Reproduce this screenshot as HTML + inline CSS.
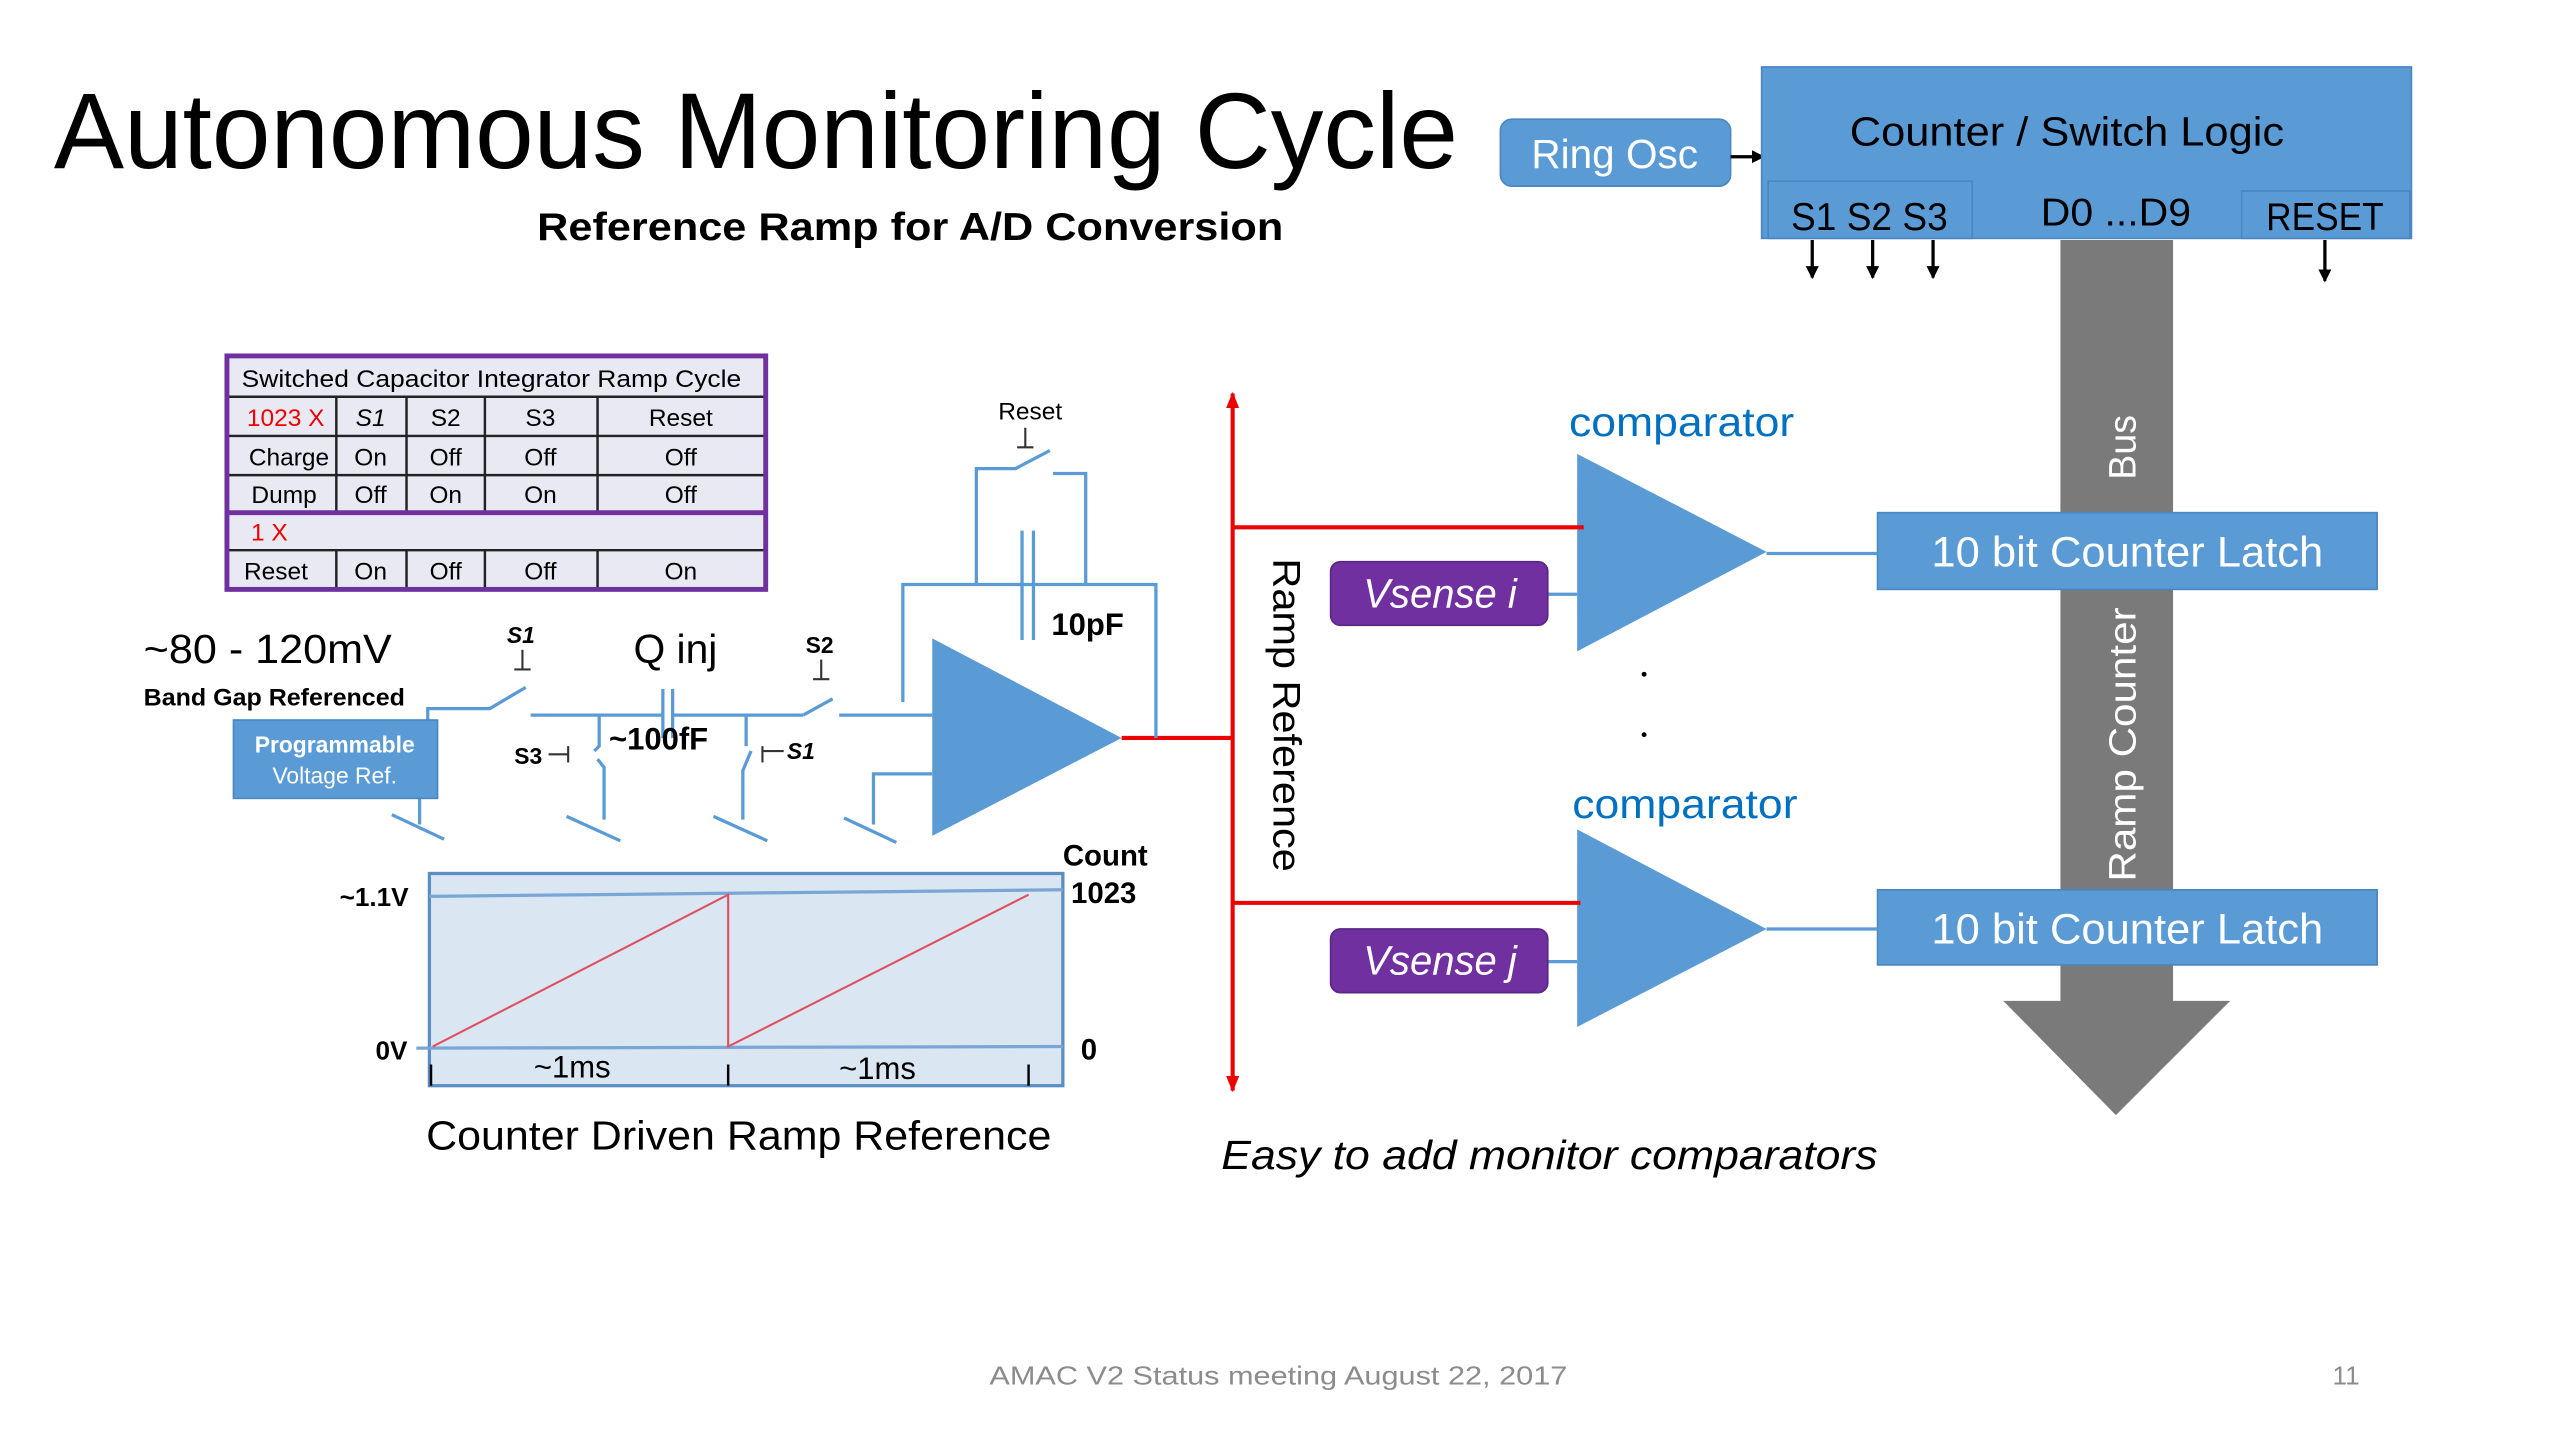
<!DOCTYPE html>
<html><head><meta charset="utf-8"><style>
html,body{margin:0;padding:0;background:#fff;}
svg{display:block;}
text{font-family:"Liberation Sans",sans-serif;}
</style></head><body>
<svg width="2560" height="1440" viewBox="0 0 1568 882" xmlns="http://www.w3.org/2000/svg">
<defs>
<marker id="ab" markerWidth="8" markerHeight="8" refX="7" refY="4" orient="auto" markerUnits="userSpaceOnUse"><path d="M0,0 L8,4 L0,8 z" fill="#000"/></marker>
<marker id="ar" markerWidth="10" markerHeight="10" refX="9" refY="5" orient="auto" markerUnits="userSpaceOnUse"><path d="M0,1 L10,5 L0,9 z" fill="#e00"/></marker>
</defs>
<rect width="1568" height="882" fill="#fff"/>
<!-- title -->
<text x="33" y="103" font-size="66" textLength="860" lengthAdjust="spacingAndGlyphs">Autonomous Monitoring Cycle</text>
<text x="329" y="147" font-size="24" font-weight="bold" textLength="457" lengthAdjust="spacingAndGlyphs">Reference Ramp for   A/D  Conversion</text>

<!-- Ring osc & counter -->
<rect x="919" y="73" width="141" height="41" rx="7" fill="#5b9bd5" stroke="#4a86c0"/>
<text x="989" y="103" font-size="25" fill="#fff" text-anchor="middle" textLength="102" lengthAdjust="spacingAndGlyphs">Ring Osc</text>
<line x1="1060" y1="96" x2="1080" y2="96" stroke="#000" stroke-width="2" marker-end="url(#ab)"/>
<rect x="1079" y="41" width="398" height="105" fill="#5b9bd5" stroke="#4a86c0"/>
<text x="1266" y="89" font-size="25" text-anchor="middle" textLength="266" lengthAdjust="spacingAndGlyphs">Counter / Switch Logic</text>
<rect x="1083" y="111" width="125" height="35" fill="#5b9bd5" stroke="#4a86c0"/>
<text x="1145" y="141" font-size="24" text-anchor="middle" textLength="96" lengthAdjust="spacingAndGlyphs">S1 S2 S3</text>
<text x="1296" y="138" font-size="24" text-anchor="middle" textLength="92" lengthAdjust="spacingAndGlyphs">D0 ...D9</text>
<rect x="1373" y="117" width="103" height="29" fill="#5b9bd5" stroke="#4a86c0"/>
<text x="1424" y="141" font-size="24" text-anchor="middle" textLength="72" lengthAdjust="spacingAndGlyphs">RESET</text>
<g stroke="#000" stroke-width="2">
<line x1="1110" y1="147" x2="1110" y2="170" marker-end="url(#ab)"/>
<line x1="1147" y1="147" x2="1147" y2="170" marker-end="url(#ab)"/>
<line x1="1184" y1="147" x2="1184" y2="170" marker-end="url(#ab)"/>
<line x1="1424" y1="147" x2="1424" y2="172" marker-end="url(#ab)"/>
</g>

<!-- bus -->
<path d="M1262,147 L1331,147 L1331,613 L1366,613 L1296,683 L1227,613 L1262,613 z" fill="#7a7a7a"/>
<text transform="translate(1308,274) rotate(-90)" font-size="23" fill="#fff" text-anchor="middle">Bus</text>
<text transform="translate(1308,456) rotate(-90)" font-size="23" fill="#fff" text-anchor="middle" textLength="168" lengthAdjust="spacingAndGlyphs">Ramp Counter</text>
<rect x="1150" y="314" width="306" height="47" fill="#5b9bd5" stroke="#4a86c0"/>
<text x="1303" y="347" font-size="26" fill="#fff" text-anchor="middle" textLength="240" lengthAdjust="spacingAndGlyphs">10 bit Counter Latch</text>
<rect x="1150" y="545" width="306" height="46" fill="#5b9bd5" stroke="#4a86c0"/>
<text x="1303" y="578" font-size="26" fill="#fff" text-anchor="middle" textLength="240" lengthAdjust="spacingAndGlyphs">10 bit Counter Latch</text>

<!-- comparators -->
<g stroke="#5b9bd5" stroke-width="2" fill="none">
<line x1="1082" y1="339" x2="1150" y2="339"/>
<line x1="1082" y1="569" x2="1150" y2="569"/>
<line x1="948" y1="364" x2="966" y2="364"/>
<line x1="948" y1="589" x2="966" y2="589"/>
</g>
<polygon points="966,278 966,399 1082,338" fill="#5b9bd5"/>
<polygon points="966,508 966,629 1082,569" fill="#5b9bd5"/>
<text x="961" y="267" font-size="25" fill="#0070c0" textLength="138" lengthAdjust="spacingAndGlyphs">comparator</text>
<text x="963" y="501" font-size="25" fill="#0070c0" textLength="138" lengthAdjust="spacingAndGlyphs">comparator</text>
<rect x="815" y="344" width="133" height="39" rx="6" fill="#7030a0" stroke="#5a2585"/>
<text x="882" y="372" font-size="25" font-style="italic" fill="#fff" text-anchor="middle" textLength="94" lengthAdjust="spacingAndGlyphs">Vsense i</text>
<rect x="815" y="569" width="133" height="39" rx="6" fill="#7030a0" stroke="#5a2585"/>
<text x="882" y="597" font-size="25" font-style="italic" fill="#fff" text-anchor="middle" textLength="94" lengthAdjust="spacingAndGlyphs">Vsense j</text>
<circle cx="1007" cy="413" r="1.5" fill="#000"/>
<circle cx="1007" cy="450" r="1.5" fill="#000"/>

<!-- red ramp ref -->
<g stroke="#e00" stroke-width="2.5" fill="none">
<line x1="755" y1="452" x2="755" y2="241" marker-end="url(#ar)"/>
<line x1="755" y1="452" x2="755" y2="668" marker-end="url(#ar)"/>
<line x1="755" y1="323" x2="970" y2="323"/>
<line x1="755" y1="553" x2="968" y2="553"/>
<line x1="687" y1="452" x2="755" y2="452"/>
</g>
<text transform="translate(780,438) rotate(90)" font-size="24" text-anchor="middle" textLength="192" lengthAdjust="spacingAndGlyphs">Ramp Reference</text>
<text x="748" y="716" font-size="25" font-style="italic" textLength="402" lengthAdjust="spacingAndGlyphs">Easy to add  monitor comparators</text>

<!-- table -->
<rect x="139" y="218" width="330" height="143" fill="#e9e9f3"/>
<g stroke="#222" stroke-width="1.5">
<line x1="139" y1="243" x2="469" y2="243"/>
<line x1="139" y1="267" x2="469" y2="267"/>
<line x1="139" y1="291" x2="469" y2="291"/>
<line x1="139" y1="337" x2="469" y2="337"/>
<line x1="206" y1="243" x2="206" y2="314"/><line x1="249" y1="243" x2="249" y2="314"/>
<line x1="297" y1="243" x2="297" y2="314"/><line x1="366" y1="243" x2="366" y2="314"/>
<line x1="206" y1="337" x2="206" y2="361"/><line x1="249" y1="337" x2="249" y2="361"/>
<line x1="297" y1="337" x2="297" y2="361"/><line x1="366" y1="337" x2="366" y2="361"/>
</g>
<line x1="139" y1="314" x2="469" y2="314" stroke="#7030a0" stroke-width="3"/>
<rect x="139" y="218" width="330" height="143" fill="none" stroke="#7030a0" stroke-width="3"/>
<g font-size="15" text-anchor="middle">
<text x="301" y="237" textLength="306" lengthAdjust="spacingAndGlyphs">Switched Capacitor Integrator Ramp Cycle</text>
<text x="175" y="261" fill="#e00">1023  X</text><text x="227" y="261" font-style="italic">S1</text><text x="273" y="261">S2</text><text x="331" y="261">S3</text><text x="417" y="261">Reset</text>
<text x="177" y="285">Charge</text><text x="227" y="285">On</text><text x="273" y="285">Off</text><text x="331" y="285">Off</text><text x="417" y="285">Off</text>
<text x="174" y="308">Dump</text><text x="227" y="308">Off</text><text x="273" y="308">On</text><text x="331" y="308">On</text><text x="417" y="308">Off</text>
<text x="165" y="331" fill="#e00">1  X</text>
<text x="169" y="355">Reset</text><text x="227" y="355">On</text><text x="273" y="355">Off</text><text x="331" y="355">Off</text><text x="417" y="355">On</text>
</g>

<!-- integrator circuit -->
<g stroke="#5b9bd5" stroke-width="2" fill="none">
<path d="M553,430 L553,358 L708,358 L708,452"/>
<path d="M598,358 L598,287 L622,287 L643,276"/>
<path d="M645,290 L665,290 L665,358"/>
<line x1="626" y1="325" x2="626" y2="392"/><line x1="633" y1="325" x2="633" y2="392"/>
<path d="M262,441 L262,434 L300,434 L322,421"/>
<path d="M325,438 L406,438"/><path d="M411,438 L492,438"/><path d="M492,438 L510,428"/>
<path d="M514,438 L571,438"/>
<line x1="406" y1="422" x2="406" y2="452"/><line x1="412" y1="422" x2="412" y2="452"/>
<path d="M367,438 L367,457 L364,460"/><path d="M366,465 L370,470 L370,502"/>
<path d="M457,438 L457,457"/><path d="M460,460 L455,472 L455,502"/>
<path d="M257,489 L257,505"/><line x1="240" y1="499" x2="272" y2="514"/>
<line x1="347" y1="500" x2="380" y2="515"/>
<line x1="437" y1="500" x2="470" y2="515"/>
<path d="M571,474 L535,474 L535,505"/><line x1="517" y1="501" x2="549" y2="516"/>
</g>
<polygon points="571,391 571,512 687,452" fill="#5b9bd5"/>
<g stroke="#333" stroke-width="1.3">
<line x1="628" y1="262" x2="628" y2="274"/><line x1="623" y1="274" x2="633" y2="274"/>
<line x1="320" y1="398" x2="320" y2="410"/><line x1="315" y1="410" x2="325" y2="410"/>
<line x1="503" y1="404" x2="503" y2="416"/><line x1="498" y1="416" x2="508" y2="416"/>
<line x1="336" y1="462" x2="348" y2="462"/><line x1="348" y1="457" x2="348" y2="467"/>
<line x1="467" y1="457" x2="467" y2="467"/><line x1="467" y1="460" x2="480" y2="460"/>
</g>
<text x="631" y="257" font-size="15" text-anchor="middle">Reset</text>
<text x="644" y="389" font-size="19" font-weight="bold">10pF</text>
<text x="88" y="406" font-size="25" textLength="152" lengthAdjust="spacingAndGlyphs">~80 - 120mV</text>
<text x="88" y="432" font-size="15" font-weight="bold" textLength="160" lengthAdjust="spacingAndGlyphs">Band Gap Referenced</text>
<text x="388" y="406" font-size="25">Q inj</text>
<text x="319" y="394" font-size="14" font-weight="bold" font-style="italic" text-anchor="middle">S1</text>
<text x="502" y="400" font-size="14" font-weight="bold" text-anchor="middle">S2</text>
<text x="315" y="468" font-size="14" font-weight="bold">S3</text>
<text x="482" y="465" font-size="14" font-weight="bold" font-style="italic">S1</text>
<text x="373" y="459" font-size="19" font-weight="bold">~100fF</text>
<rect x="143" y="441" width="125" height="48" fill="#5b9bd5" stroke="#4a86c0"/>
<text x="205" y="461" font-size="14" font-weight="bold" fill="#fff" text-anchor="middle">Programmable</text>
<text x="205" y="480" font-size="14" fill="#fff" text-anchor="middle">Voltage Ref.</text>

<!-- ramp chart -->
<rect x="263" y="535" width="388" height="130" fill="#dae7f3" stroke="#5b8fc4" stroke-width="2"/>
<g stroke="#7aa6d6" stroke-width="2">
<line x1="263" y1="549" x2="651" y2="545"/>
<line x1="255" y1="642" x2="651" y2="641"/>
</g>
<g stroke="#e05060" stroke-width="1.3" fill="none">
<path d="M265,641 L446,548 L446,641 L630,548"/>
</g>
<g stroke="#000" stroke-width="1.5">
<line x1="264" y1="652" x2="264" y2="665"/><line x1="446" y1="652" x2="446" y2="665"/><line x1="630" y1="652" x2="630" y2="665"/>
</g>
<text x="208" y="555" font-size="16" font-weight="bold">~1.1V</text>
<text x="230" y="649" font-size="16" font-weight="bold">0V</text>
<text x="651" y="530" font-size="18" font-weight="bold">Count</text>
<text x="656" y="553" font-size="18" font-weight="bold">1023</text>
<text x="662" y="649" font-size="18" font-weight="bold">0</text>
<text x="327" y="660" font-size="19">~1ms</text>
<text x="514" y="661" font-size="19">~1ms</text>
<text x="261" y="704" font-size="25" textLength="383" lengthAdjust="spacingAndGlyphs">Counter Driven Ramp Reference</text>

<!-- footer -->
<text x="783" y="848" font-size="16" fill="#8c8c8c" text-anchor="middle" textLength="354" lengthAdjust="spacingAndGlyphs">AMAC  V2  Status  meeting   August 22, 2017</text>
<text x="1437" y="848" font-size="16" fill="#8c8c8c" text-anchor="middle">11</text>
</svg>
</body></html>
